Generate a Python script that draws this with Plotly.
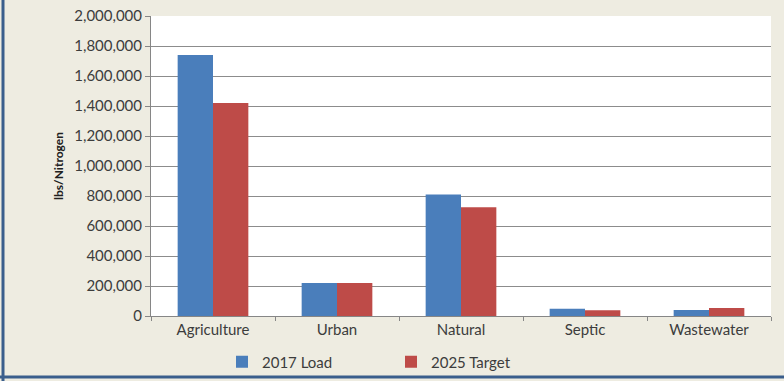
import plotly.graph_objects as go

# Nitrogen load by source sector
categories = ["Agriculture", "Urban", "Natural", "Septic", "Wastewater"]
load_2017 = [1740000, 220000, 810000, 49000, 40000]
target_2025 = [1420000, 220000, 725000, 38000, 53000]
y_ticks = list(range(0, 2000001, 200000))
y_tick_labels = [f"{v:,}" for v in y_ticks]

BLUE = "#4A7EBB"
RED = "#BE4B48"
TEXT = "#3C3C3C"
FONT = "Lato"
W, H = 784, 381
ML, MR, MT, MB = 151, 13, 16, 65
PW, PH = W - ML - MR, H - MT - MB

fig = go.Figure()
fig.add_trace(go.Bar(name="2017 Load", x=categories, y=load_2017,
                     marker=dict(color=BLUE, line=dict(width=0))))
fig.add_trace(go.Bar(name="2025 Target", x=categories, y=target_2025,
                     marker=dict(color=RED, line=dict(width=0))))


def px_x(p):
    return (p - ML) / PW


def px_y(p):
    return (H - MB - p) / PH


fig.update_layout(
    width=W, height=H,
    margin=dict(l=ML, r=MR, t=MT, b=MB, autoexpand=False),
    paper_bgcolor="#EEECE1",
    plot_bgcolor="#FFFFFF",
    barmode="group",
    bargap=0.43,
    bargroupgap=0,
    font=dict(family=FONT, size=15, color=TEXT),
    showlegend=True,
    legend=dict(
        orientation="h",
        xref="container", yref="container",
        x=222 / W, xanchor="left",
        y=1 - 362 / H, yanchor="middle",
        font=dict(family=FONT, size=15, color=TEXT),
        bgcolor="rgba(0,0,0,0)",
        entrywidth=124, entrywidthmode="pixels",
        itemwidth=30,
    ),
    xaxis=dict(
        showgrid=False,
        showline=True, linecolor="#868686", linewidth=1,
        ticks="outside", tickson="boundaries", ticklen=4, tickcolor="#868686",
        tickfont=dict(family=FONT, size=15, color=TEXT),
    ),
    yaxis=dict(
        range=[0, 2000000],
        tickvals=y_ticks, ticktext=y_tick_labels,
        showgrid=True, gridcolor="#8C8C8C", gridwidth=1,
        showline=True, linecolor="#868686", linewidth=1,
        ticks="outside", ticklen=5, tickcolor="#868686",
        tickfont=dict(family=FONT, size=15, color=TEXT),
        zeroline=False,
        title=dict(text="<b>lbs/Nitrogen</b>", font=dict(family=FONT, size=12, color="#202020"),
                   standoff=8),
    ),
    shapes=[
        # frame edges around the chart area
        dict(type="line", xref="paper", yref="paper", x0=px_x(3), x1=px_x(3),
             y0=px_y(381), y1=px_y(0), line=dict(color="#3A5E8C", width=3)),
        dict(type="line", xref="paper", yref="paper", x0=px_x(0), x1=px_x(784),
             y0=px_y(377), y1=px_y(377), line=dict(color="#3A5E8C", width=3)),
    ],
)

fig.write_html("out.html")
